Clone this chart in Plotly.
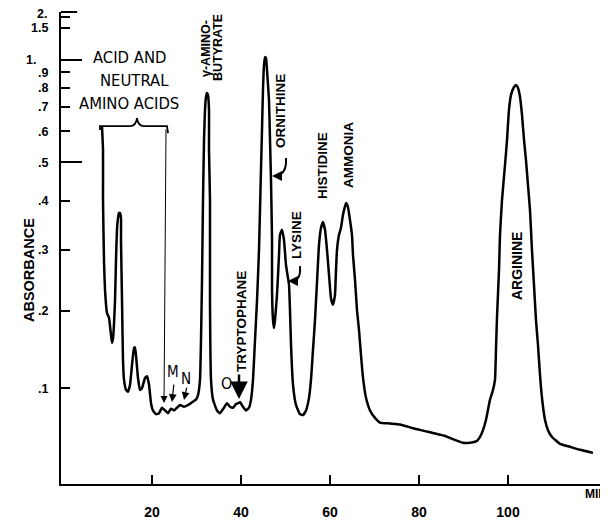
import plotly.graph_objects as go

# ---- data: elution time (min) and absorbance ----
time_min = [
    8.76, 8.99, 8.99, 9.21, 9.44, 9.89, 10.34, 10.79, 11.01, 11.24, 11.69, 11.91, 12.13, 12.36, 12.58,
    12.81, 13.03, 13.03, 13.26, 13.48, 13.71, 14.16, 14.61, 15.06, 15.51, 15.96, 16.18, 16.40, 16.85,
    17.30, 17.75, 18.43, 18.88, 19.33, 19.78, 20.22, 20.90, 21.57, 22.25, 22.92, 23.60, 24.27, 24.94,
    25.62, 26.29, 27.19, 28.09, 28.99, 29.89, 30.34, 30.79, 31.01, 31.24, 31.46, 31.69, 31.91, 32.13,
    32.36, 32.58, 32.81, 32.81, 33.03, 33.03, 33.26, 33.71, 34.61, 35.28, 36.18, 36.85, 37.53, 38.20,
    38.88, 39.78, 40.45, 41.12, 41.80, 42.25, 42.70, 43.15, 43.60, 44.04, 44.27, 44.49, 44.72, 44.94,
    45.17, 45.39, 45.62, 45.84, 46.29, 46.52, 46.74, 46.97, 46.97, 47.19, 47.42, 47.64, 48.09, 48.54,
    48.76, 49.21, 49.66, 50.11, 50.56, 50.79, 51.01, 51.24, 51.69, 52.36, 53.26, 53.93, 54.61, 55.28,
    55.73, 56.18, 56.63, 57.08, 57.53, 57.98, 58.43, 58.88, 59.33, 59.78, 60.22, 60.67, 61.12, 61.35,
    61.57, 62.02, 62.47, 62.92, 63.60, 64.04, 64.49, 64.94, 65.17, 65.62, 66.07, 66.52, 66.97, 67.42,
    68.09, 68.99, 70.11, 71.24, 73.48, 75.73, 78.65, 81.35, 83.15, 85.84, 88.09, 89.89, 91.46, 93.03,
    93.71, 94.38, 95.06, 95.96, 96.63, 97.08, 97.30, 97.53, 97.98, 98.20, 98.65, 99.33, 99.78, 100.22,
    100.67, 101.35, 101.80, 102.25, 102.70, 103.15, 103.60, 104.04, 104.49, 104.94, 105.39, 105.84,
    106.29, 106.74, 107.19, 107.64, 108.31, 108.99, 109.89, 111.69, 113.93, 116.18, 119.10,
]
absorbance = [
    0.620, 0.537, 0.402, 0.281, 0.232, 0.197, 0.190, 0.166, 0.156, 0.162, 0.216, 0.281, 0.338, 0.362, 0.373,
    0.373, 0.362, 0.318, 0.216, 0.134, 0.110, 0.098, 0.096, 0.104, 0.128, 0.149, 0.150, 0.140, 0.112,
    0.098, 0.100, 0.112, 0.114, 0.104, 0.083, 0.075, 0.071, 0.072, 0.078, 0.075, 0.072, 0.077, 0.075,
    0.078, 0.081, 0.079, 0.081, 0.084, 0.087, 0.092, 0.110, 0.160, 0.248, 0.402, 0.570, 0.687, 0.749,
    0.770, 0.759, 0.687, 0.537, 0.402, 0.216, 0.110, 0.087, 0.075, 0.072, 0.078, 0.083, 0.079, 0.078,
    0.082, 0.084, 0.079, 0.075, 0.078, 0.087, 0.110, 0.160, 0.216, 0.299, 0.380, 0.478, 0.605, 0.787,
    0.956, 1.028, 1.019, 0.917, 0.734, 0.570, 0.451, 0.318, 0.232, 0.187, 0.176, 0.187, 0.224, 0.290,
    0.328, 0.338, 0.318, 0.273, 0.251, 0.240, 0.201, 0.153, 0.104, 0.081, 0.071, 0.070, 0.075, 0.089,
    0.110, 0.147, 0.187, 0.244, 0.309, 0.342, 0.354, 0.338, 0.299, 0.256, 0.219, 0.209, 0.224, 0.264,
    0.299, 0.328, 0.342, 0.369, 0.395, 0.386, 0.358, 0.328, 0.290, 0.248, 0.201, 0.173, 0.140, 0.112,
    0.089, 0.075, 0.067, 0.062, 0.061, 0.060, 0.056, 0.053, 0.051, 0.048, 0.044, 0.041, 0.041, 0.043,
    0.047, 0.054, 0.065, 0.087, 0.098, 0.110, 0.147, 0.191, 0.264, 0.328, 0.402, 0.492, 0.570, 0.687,
    0.759, 0.804, 0.816, 0.798, 0.749, 0.665, 0.570, 0.506, 0.438, 0.380, 0.299, 0.240,
    0.187, 0.153, 0.116, 0.089, 0.065, 0.054, 0.047, 0.040, 0.037, 0.034, 0.031,
]

y_tick_absorbance = [2.0, 1.5, 1.0, 0.9, 0.8, 0.7, 0.6, 0.5, 0.4, 0.3, 0.2, 0.1]
y_tick_labels = ["", "1.5", "", ".9", ".8", ".7", ".6", ".5", ".4", ".3", ".2", ".1"]
offset_tick_labels = [("2.", 2.0), ("1.", 1.0)]   # drawn a little apart from the crowded ticks
long_tick_absorbance = [1.0, 0.5]
x_tick_values = [20, 40, 60, 80, 100]
x_tick_labels = ["20", "40", "60", "80", "100"]


def trans(a):
    """Chart paper is linear in transmittance; absorbance = -log10(T)."""
    return 10 ** (-a)


FONT_B = "Liberation Sans, Arial, sans-serif"
FONT_N = "DejaVu Sans Condensed, Liberation Sans Narrow, Liberation Sans, sans-serif"
Y_RANGE = [0.997, -0.0016]

fig = go.Figure()
fig.add_trace(go.Scatter(
    x=time_min, y=[trans(a) for a in absorbance], mode="lines",
    line=dict(color="black", width=2.5, shape="spline", smoothing=0.4),
    hoverinfo="skip", showlegend=False,
))

# rotated peak labels (x in minutes, y in transmittance units of the axis)
peak_labels = [
    ("\u03b3-AMINO-", 32.13, 0.0746, 12.5),
    ("BUTYRATE", 34.83, 0.0725, 12.5),
    ("ORNITHINE", 48.76, 0.208, 13.5),
    ("LYSINE", 52.58, 0.470, 13.5),
    ("HISTIDINE", 58.43, 0.324, 13.5),
    ("AMMONIA", 64.04, 0.301, 13.5),
    ("ARGININE", 102.0, 0.536, 14),
    ("TRYPTOPHANE", 40.22, 0.652, 13.5),
]
ann = []
for txt, x, y, s in peak_labels:
    ann.append(dict(text=txt, x=x, y=y, xref="x", yref="y", showarrow=False, textangle=-90,
                    font=dict(family=FONT_B, size=s, color="black", weight="bold")))

for txt, x, y in [("ACID AND", 14.9, 0.0937), ("NEUTRAL", 15.96, 0.1423), ("AMINO ACIDS", 14.9, 0.191)]:
    ann.append(dict(text=txt, x=x, y=y, xref="x", yref="y", showarrow=False,
                    font=dict(family=FONT_N, size=16.5, color="black")))

for txt, x, y, s in [("M", 24.72, 0.760, 15), ("N", 27.64, 0.775, 15), ("O", 36.85, 0.7835, 16)]:
    ann.append(dict(text=txt, x=x, y=y, xref="x", yref="y", showarrow=False,
                    font=dict(family=FONT_N, size=s, color="black")))

# arrows: (head x, head y, tail x, tail y, width, head style, size)
arrows = [
    (22.70, 0.8258, 23.15, 0.2439, 1.0, 2, 1.4),
    (24.49, 0.8236, 24.94, 0.7835, 1.2, 2, 1.3),
    (27.19, 0.8194, 27.87, 0.7898, 1.2, 2, 1.3),
    (39.55, 0.8173, 39.55, 0.7623, 2.5, 2, 1.4),
    (46.97, 0.3455, 48.31, 0.3455, 2.0, 2, 1.0),
    (50.56, 0.5676, 51.91, 0.5676, 2.0, 2, 1.0),
]
for hx, hy, tx, ty, w, hd, sz in arrows:
    ann.append(dict(x=hx, y=hy, ax=tx, ay=ty, xref="x", yref="y", axref="x", ayref="y",
                    text="", showarrow=True, arrowhead=hd, arrowsize=sz, arrowwidth=w,
                    arrowcolor="black", standoff=0))

# "2." sits just under the top of the axis, "1." is set further left as on the original
for txt, a in offset_tick_labels:
    yv = max(trans(a), 0.002)
    xv = -0.022 if a > 1.5 else -0.043
    ann.append(dict(text=txt, x=xv, y=yv - 0.008 if a > 1.5 else yv, xref="paper", yref="y",
                    showarrow=False, xanchor="right", yanchor="middle",
                    font=dict(family=FONT_B, size=12.5, color="black", weight="bold")))

ann.append(dict(text="ABSORBANCE", x=-0.078, y=0.453, xref="paper", yref="paper", showarrow=False,
                textangle=-90, font=dict(family=FONT_B, size=14.5, color="black", weight="bold")))
ann.append(dict(text="MIN", x=0.99, y=-0.040, xref="paper", yref="paper", showarrow=False,
                xanchor="center",
                font=dict(family=FONT_B, size=12, color="black", weight="bold")))

shapes = [
    # brace over acid and neutral amino acids
    dict(type="path", xref="x", yref="y",
         path="M 8.31,0.2480 L 8.31,0.2397 L 15.06,0.2397 Q 16.40,0.2397 16.63,0.2227 "
              "Q 16.85,0.2397 18.20,0.2397 L 23.37,0.2397 L 23.60,0.2545",
         line=dict(color="black", width=1.8)),
    # curled pointers for ornithine and lysine
    dict(type="path", xref="x", yref="y",
         path="M 50.11,0.3074 Q 50.34,0.3412 47.87,0.3455",
         line=dict(color="black", width=2)),
    dict(type="path", xref="x", yref="y",
         path="M 53.26,0.5359 Q 53.48,0.5676 51.46,0.5676",
         line=dict(color="black", width=2)),
    # right frame and top bar
    dict(type="line", xref="paper", yref="paper", x0=1, x1=1, y0=0, y1=0.83,
         line=dict(color="black", width=2)),
    dict(type="line", xref="paper", yref="paper", x0=0, x1=0.03, y0=1, y1=1,
         line=dict(color="black", width=2)),
]

# the page body adds an 8 px offset, so the figure itself is 8 px smaller each way
fig.update_layout(
    width=600, height=513,
    margin=dict(l=53, r=7, t=4, b=37, autoexpand=False),
    plot_bgcolor="white", paper_bgcolor="white",
    annotations=ann, shapes=shapes,
    showlegend=False,
)
fig.update_xaxes(
    range=[-0.45, 120.9], showgrid=False, zeroline=False, automargin=False,
    showline=True, linecolor="black", linewidth=2,
    ticks="inside", ticklen=9, tickwidth=2, tickcolor="black",
    tickmode="array", tickvals=x_tick_values, ticktext=x_tick_labels,
    ticklabelstandoff=14,
    tickfont=dict(family=FONT_B, size=14, color="black", weight="bold"),
)
fig.update_yaxes(
    range=Y_RANGE, showgrid=False, zeroline=False, automargin=False,
    showline=True, linecolor="black", linewidth=2,
    ticks="inside", ticklen=9, tickwidth=2, tickcolor="black",
    tickmode="array", tickvals=[trans(a) for a in y_tick_absorbance], ticktext=y_tick_labels,
    ticklabelstandoff=8,
    tickfont=dict(family=FONT_B, size=12.5, color="black", weight="bold"),
    minor=dict(tickmode="array", tickvals=[trans(a) for a in long_tick_absorbance],
               ticks="inside", ticklen=21, tickwidth=2, tickcolor="black", showgrid=False),
)

fig.write_html("out.html")
